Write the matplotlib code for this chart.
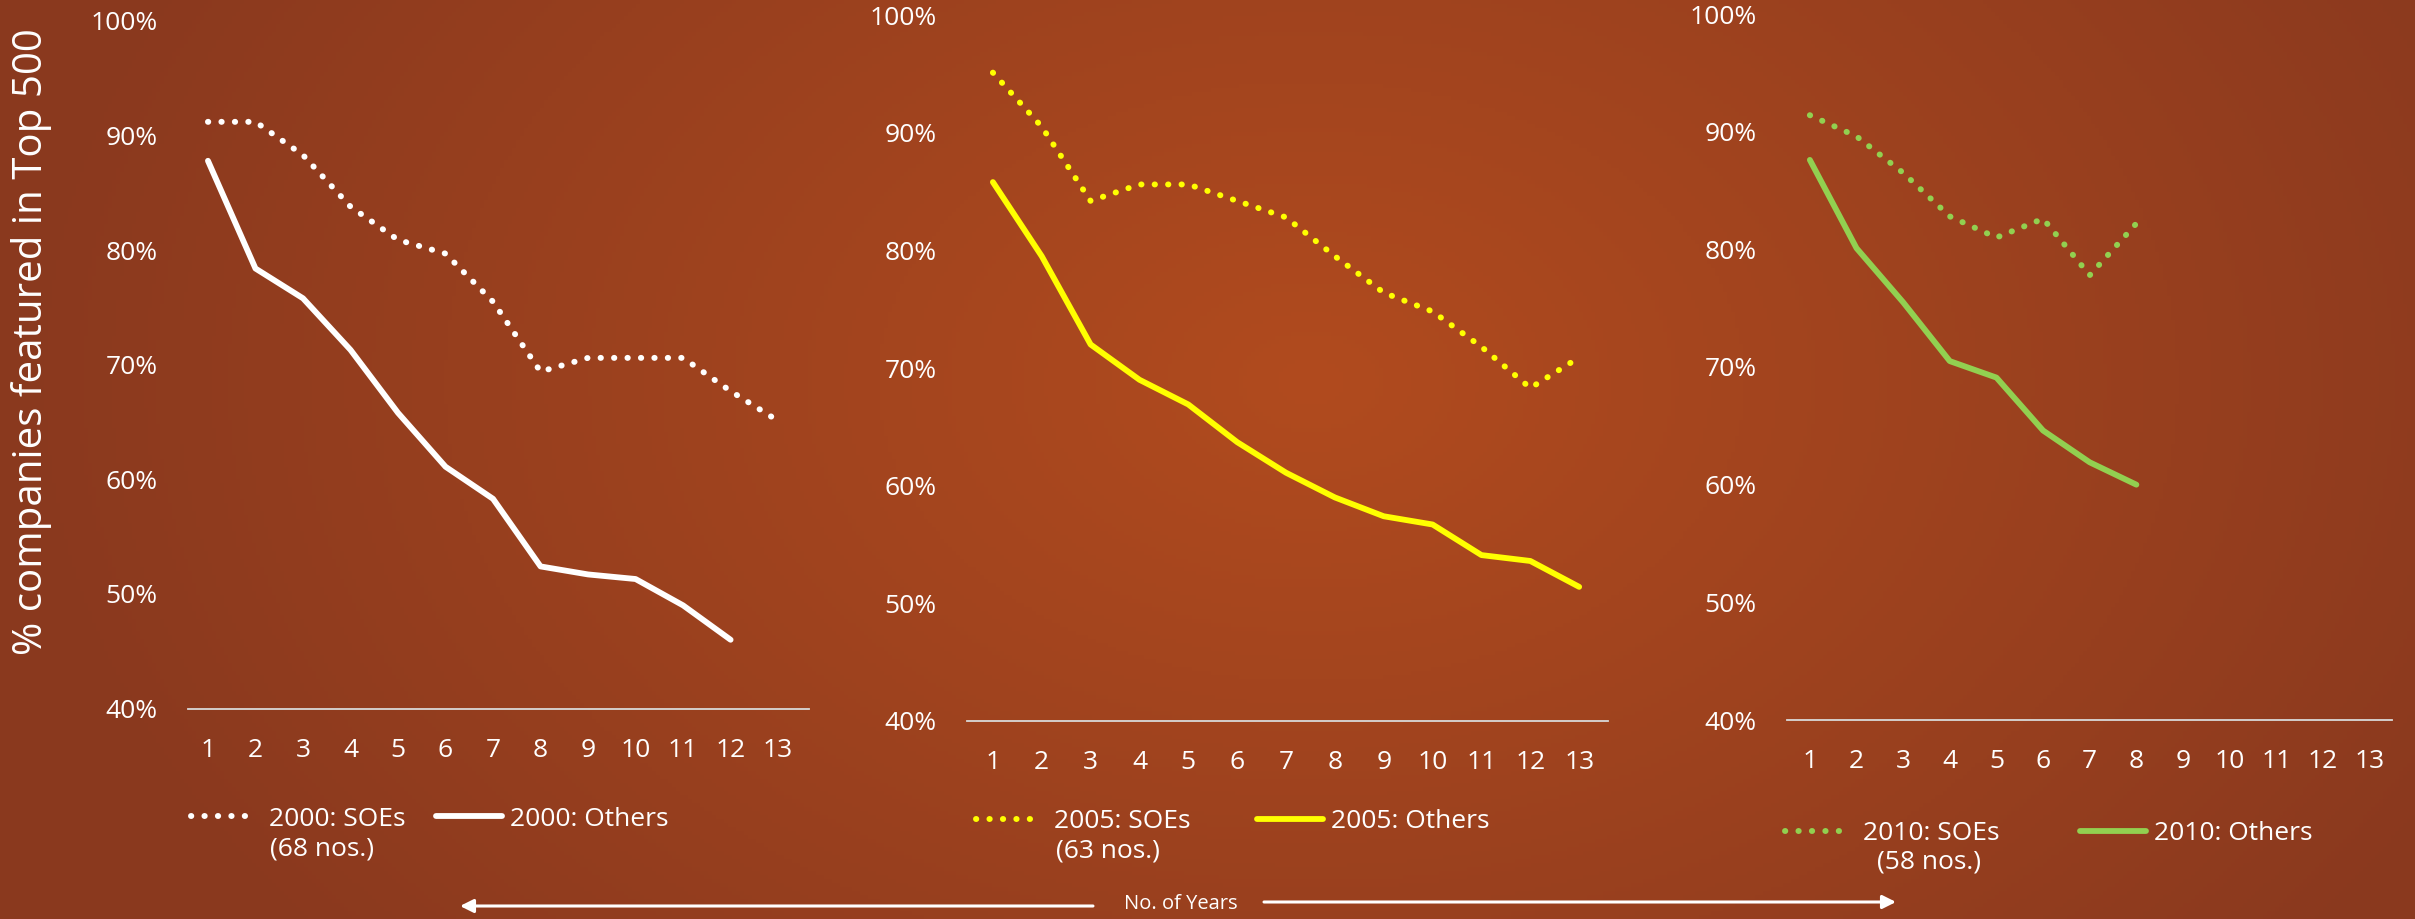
import numpy as np
import matplotlib
matplotlib.use("Agg")
import matplotlib.pyplot as plt
from matplotlib.ticker import FixedLocator, FuncFormatter

# ---------------- data ----------------
years = list(range(1, 14))
x_tick_labels = [str(v) for v in years]
y_ticks = [40, 50, 60, 70, 80, 90, 100]

soe_2000 = [91.2, 91.2, 88.3, 83.8, 80.9, 79.7, 75.5, 69.4, 70.6, 70.6, 70.6, 67.7, 65.1]
oth_2000 = [87.8, 78.4, 75.8, 71.3, 65.8, 61.1, 58.3, 52.4, 51.7, 51.3, 49.0, 46.0]
soe_2005 = [95.1, 90.5, 84.2, 85.6, 85.6, 84.2, 82.8, 79.5, 76.4, 74.8, 71.8, 68.3, 70.9]
oth_2005 = [85.8, 79.5, 72.0, 69.0, 66.9, 63.7, 61.1, 59.0, 57.4, 56.7, 54.1, 53.6, 51.4]
soe_2010 = [91.4, 89.6, 86.5, 82.8, 81.0, 82.6, 77.8, 82.2]
oth_2010 = [87.6, 80.1, 75.5, 70.5, 69.1, 64.6, 61.9, 60.0]

cohorts = ["2000", "2005", "2010"]
soe_counts = ["(68 nos.)", "(63 nos.)", "(58 nos.)"]
y_axis_title = "% companies featured in Top 500"
x_axis_title = "No. of Years"

# ---------------- layout ----------------
W, H = 2415, 919
fig = plt.figure(figsize=(W / 100, H / 100), dpi=100)
FONT = "Open Sans"
plt.rcParams["font.family"] = [FONT, "DejaVu Sans"]


def fx(px):
    return px / W


def fy(py):
    return 1 - py / H


# background radial gradient
bg = fig.add_axes([0, 0, 1, 1], zorder=-10)
gx, gy = np.meshgrid(np.arange(0, W, 4), np.arange(0, H, 4))
d = np.sqrt(((gx - 1310) / 1300.0) ** 2 + ((gy - 380) / 900.0) ** 2)
d = np.clip(d, 0, 1)
c0 = np.array([177, 75, 30]) / 255.0
c1 = np.array([138, 57, 30]) / 255.0
img = c0[None, None, :] + (c1 - c0)[None, None, :] * d[:, :, None]
bg.imshow(img, extent=[0, 1, 0, 1], aspect="auto", origin="upper")
bg.set_axis_off()

panels = [
    dict(l=188, r=809, b=708.5, t=21, xlo=0.58, xhi=13.65,
         soe=soe_2000, oth=oth_2000, color="#FFFFFF",
         leg_y=819, h1=191, h2=436, note_x=322, note_y=849),
    dict(l=967, r=1608, b=721, t=15, xlo=0.47, xhi=13.59,
         soe=soe_2005, oth=oth_2005, color="#FFFF00",
         leg_y=822, h1=976, h2=1257, note_x=1108, note_y=851),
    dict(l=1787, r=2392, b=720, t=14, xlo=0.51, xhi=13.48,
         soe=soe_2010, oth=oth_2010, color="#92D050",
         leg_y=834, h1=1785, h2=2080, note_x=1929, note_y=862),
]

TICK_FS = 19
LEG_FS = 19

for i, p in enumerate(panels):
    ax = fig.add_axes([fx(p["l"]), fy(p["b"]), fx(p["r"]) - fx(p["l"]),
                       fy(p["t"]) - fy(p["b"])])
    ax.patch.set_visible(False)
    n_s = len(p["soe"])
    n_o = len(p["oth"])
    l_soe, = ax.plot(years[:n_s], p["soe"], color=p["color"], lw=4.3,
                     linestyle=(0, (0.05, 2.2)), dash_capstyle="round",
                     label=f"{cohorts[i]}: SOEs", clip_on=False)
    l_oth, = ax.plot(years[:n_o], p["oth"], color=p["color"], lw=4.2,
                     solid_capstyle="round", solid_joinstyle="round",
                     label=f"{cohorts[i]}: Others", clip_on=False)
    ax.set_xlim(p["xlo"], p["xhi"])
    ax.set_ylim(40, 100)
    ax.xaxis.set_major_locator(FixedLocator(years))
    ax.set_xticklabels(x_tick_labels)
    ax.yaxis.set_major_locator(FixedLocator(y_ticks))
    ax.yaxis.set_major_formatter(FuncFormatter(lambda v, pos: f"{v:.0f}%"))
    for s in ["top", "right", "left"]:
        ax.spines[s].set_visible(False)
    ax.spines["bottom"].set_color("#D9D9D9")
    ax.spines["bottom"].set_linewidth(1.3)
    ax.tick_params(axis="both", length=0, colors="white", labelsize=TICK_FS)
    ax.tick_params(axis="x", pad=21)
    ax.tick_params(axis="y", pad=22)

    leg1 = ax.legend(handles=[l_soe], loc="center left",
                     bbox_to_anchor=(fx(p["h1"]), fy(p["leg_y"])),
                     bbox_transform=fig.transFigure, frameon=False,
                     borderpad=0, borderaxespad=0, handlelength=2.5,
                     handletextpad=0.45, fontsize=LEG_FS, labelcolor="white")
    ax.add_artist(leg1)
    ax.legend(handles=[l_oth], loc="center left",
              bbox_to_anchor=(fx(p["h2"]), fy(p["leg_y"])),
              bbox_transform=fig.transFigure, frameon=False,
              borderpad=0, borderaxespad=0, handlelength=2.5,
              handletextpad=0.3, fontsize=LEG_FS, labelcolor="white")
    fig.text(fx(p["note_x"]), fy(p["note_y"]), soe_counts[i], ha="center",
             va="center", color="white", fontsize=LEG_FS)

# y axis title
fig.text(fx(32), fy(342), y_axis_title, rotation=90, ha="center", va="center",
         color="white", fontsize=29)

# x axis title with arrows
fig.text(fx(1181), fy(904), x_axis_title, ha="center", va="center",
         color="white", fontsize=14.5)
arrow_kw = dict(arrowstyle="-|>,head_length=0.8,head_width=0.4", color="white",
                lw=2.2, shrinkA=0, shrinkB=0)
bg.annotate("", xy=(fx(460), fy(906)), xytext=(fx(1093), fy(906)),
            xycoords="figure fraction", textcoords="figure fraction",
            arrowprops=arrow_kw)
bg.annotate("", xy=(fx(1896), fy(902)), xytext=(fx(1264), fy(902)),
            xycoords="figure fraction", textcoords="figure fraction",
            arrowprops=arrow_kw)

fig.savefig("out.png", dpi=100)
